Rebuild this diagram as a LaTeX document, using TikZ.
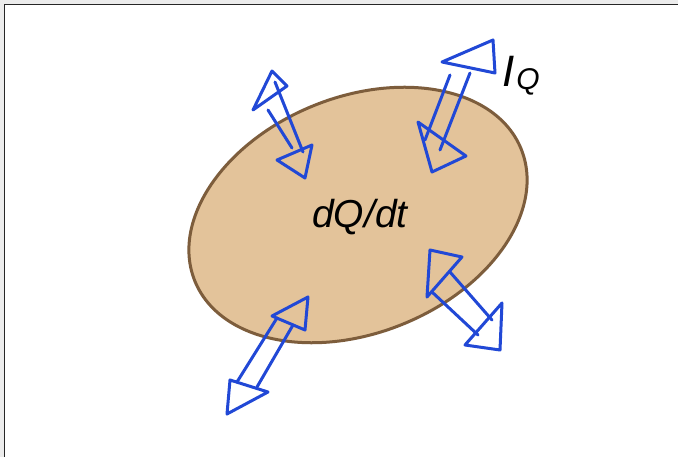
\documentclass[tikz,border=0pt]{standalone}
\usepackage{fontspec}
\setmainfont{Liberation Sans}
\definecolor{arrowblue}{RGB}{33,72,214}
\definecolor{blobfill}{RGB}{227,195,154}
\definecolor{blobedge}{RGB}{125,93,60}
\definecolor{framegray}{RGB}{236,236,236}
\begin{document}
\begin{tikzpicture}[x=1pt,y=-1pt,
  arrowline/.style={draw=arrowblue, line width=3pt, line cap=round, line join=round},
  blob/.style={draw=blobedge, fill=blobfill, line width=3pt},
  label/.style={inner sep=0pt, anchor=base}]
\useasboundingbox (0,0) rectangle (678,457);
\fill[framegray] (0,0) rectangle (678,457);
\fill[white] (4,4) rectangle (678,457);
\draw[line width=1.4pt, black!85] (4.5,457) -- (4.5,4.5) -- (678,4.5);
% blob
\draw[blob] (358,215) ellipse [x radius=176pt, y radius=118pt, rotate=22];
\node[label, font=\fontsize{39}{39}\selectfont\itshape] (rate) at (360,228) {dQ/dt};
% arrow 1 (top left)
\draw[arrowline] (253,110) -- (272,71) -- (287,86) -- cycle;
\draw[arrowline] (268,110) -- (292,148);
\draw[arrowline] (275,82) -- (303,152);
\draw[arrowline] (277,160) -- (312,145) -- (305,178) -- cycle;
% arrow 2 (top right, I_Q)
\draw[arrowline] (442,62) -- (495,73) -- (493,40) -- cycle;
\draw[arrowline] (450,75) -- (425,140);
\draw[arrowline] (470,73) -- (440,150);
\draw[arrowline] (418,122) -- (432,172) -- (466,156) -- cycle;
% arrow 3 (bottom right)
\draw[arrowline] (430,250) -- (462,257) -- (427,297) -- cycle;
\draw[arrowline] (450,272) -- (492,320);
\draw[arrowline] (432,292) -- (478,335);
\draw[arrowline] (502,303) -- (500,350) -- (465,345) -- cycle;
% arrow 4 (bottom left)
\draw[arrowline] (308,297) -- (272,316) -- (305,330) -- cycle;
\draw[arrowline] (277,318) -- (237,382);
\draw[arrowline] (293,325) -- (257,387);
\draw[arrowline] (230,380) -- (227,414) -- (268,392) -- cycle;
\node[inner sep=0pt, anchor=base west] (iq) at (502,87)
 {\fontsize{44}{44}\selectfont\itshape I\kern2pt\raisebox{-3pt}{\fontsize{30}{30}\selectfont Q}};
\end{tikzpicture}
\end{document}
